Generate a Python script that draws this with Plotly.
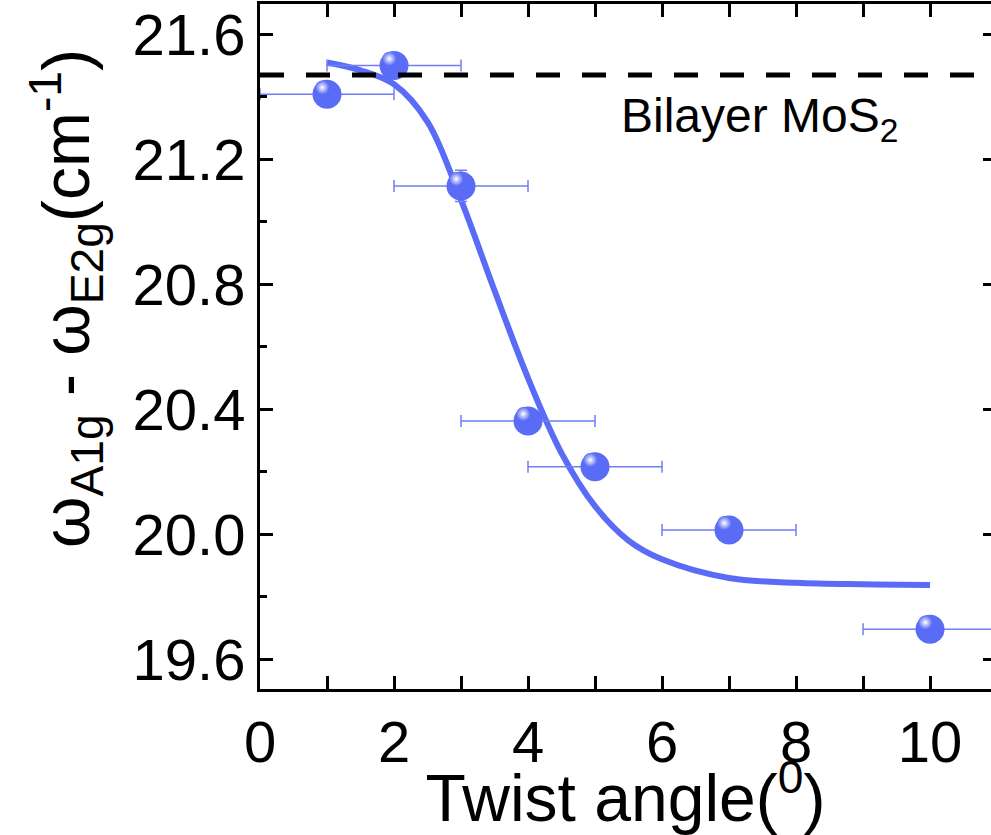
import plotly.graph_objects as go

# Data
angle = [1, 2, 3, 4, 5, 7, 10]
diff = [21.408, 21.50, 21.115, 20.363, 20.216, 20.014, 19.696]
x_err = [1, 1, 1, 1, 1, 1, 1]
y_err = [0.0, 0.0, 0.05, 0.0, 0.0, 0.0, 0.0]

fit_x = [1, 1.5, 2, 2.5, 3, 3.5, 4, 4.5, 5, 5.5, 6, 7, 8, 9, 10]
fit_y = [21.51, 21.485, 21.44, 21.32, 21.07, 20.78, 20.50, 20.26, 20.09,
         19.98, 19.92, 19.86, 19.845, 19.84, 19.838]

bilayer_ref = 21.47

x_ticks = [0, 2, 4, 6, 8, 10]
y_ticks = [19.6, 20.0, 20.4, 20.8, 21.2, 21.6]
y_tick_text = ["19.6", "20.0", "20.4", "20.8", "21.2", "21.6"]

BLUE = "#5a6cf6"
FONT = "Arial, Liberation Sans, sans-serif"

fig = go.Figure()

fig.add_trace(go.Scatter(
    x=fit_x, y=fit_y, mode="lines", line=dict(color=BLUE, width=6, shape="spline"),
    showlegend=False, hoverinfo="skip"))

fig.add_trace(go.Scatter(
    x=angle, y=diff, mode="markers",
    marker=dict(size=29, color=BLUE, line=dict(width=0)),
    error_x=dict(type="data", array=x_err, color="#6f80f7", thickness=1.5, width=6),
    error_y=dict(type="data", array=y_err, color="#6f80f7", thickness=1.5, width=6),
    showlegend=False))

# highlight on spheres
hx = [a - 0.07 for a in angle]
hy = [d + 0.022 for d in diff]
fig.add_trace(go.Scatter(
    x=hx, y=hy, mode="markers",
    marker=dict(size=14, color=BLUE, line=dict(width=0),
                gradient=dict(type="radial", color="white")),
    showlegend=False, hoverinfo="skip"))

# invisible trace for right axis
fig.add_trace(go.Scatter(x=[0], y=[20], yaxis="y2", mode="markers",
                         marker=dict(opacity=0), showlegend=False, hoverinfo="skip"))

fig.add_shape(type="line", xref="paper", x0=0, x1=1, yref="y", y0=bilayer_ref, y1=bilayer_ref,
              line=dict(color="black", width=5, dash="24px,22px"))

fig.add_annotation(text="Bilayer MoS<sub>2</sub>", x=0.875, y=21.33, xref="paper", yref="y",
                   showarrow=False, xanchor="right", yanchor="middle",
                   font=dict(family=FONT, size=48, color="black"))

# y-axis title as rotated annotation
fig.add_annotation(text="ω<sub>A1g</sub> - ω<sub>E2g</sub>(cm<sup>-1</sup>)",
                   x=-0.266, y=0.57, xref="paper", yref="paper", textangle=-90,
                   showarrow=False, xanchor="center", yanchor="middle",
                   font=dict(family=FONT, size=66, color="black"))

yr = [19.505, 21.697]

fig.update_layout(
    width=991, height=835,
    margin=dict(l=260, r=0, t=4, b=146),
    plot_bgcolor="white", paper_bgcolor="white",
    font=dict(family=FONT, color="black"),
    xaxis=dict(range=[0, 10.91], tickvals=x_ticks, ticks="inside", ticklen=13, tickwidth=2.5,
               tickcolor="black", showline=True, linecolor="black", linewidth=3,
               mirror="allticks", showgrid=False, zeroline=False,
               minor=dict(dtick=1, ticks="inside", ticklen=7, tickwidth=2.5, tickcolor="black"),
               tickfont=dict(size=58), title=dict(text="Twist angle(<sup>0</sup>)",
                                                  font=dict(size=66), standoff=2)),
    yaxis=dict(range=yr, tickvals=y_ticks, ticktext=y_tick_text, ticks="inside", ticklen=13,
               tickwidth=2.5, tickcolor="black", showline=True, linecolor="black", linewidth=3,
               showgrid=False, zeroline=False,
               minor=dict(dtick=0.2, tick0=19.6, ticks="inside", ticklen=7, tickwidth=2.5,
                          tickcolor="black"),
               tickfont=dict(size=58)),
    yaxis2=dict(range=yr, overlaying="y", side="right", tickvals=y_ticks, ticks="inside",
                ticklen=8, tickwidth=2.5, tickcolor="black", showticklabels=False,
                showline=False, showgrid=False, zeroline=False),
)

fig.write_html("out.html")
